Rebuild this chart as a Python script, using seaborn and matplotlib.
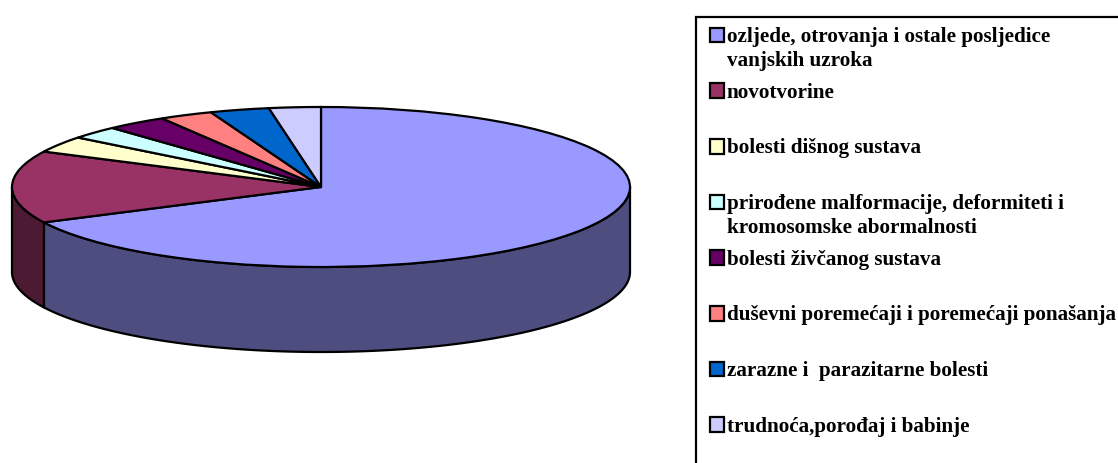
import numpy as np
import matplotlib
matplotlib.use("Agg")
import matplotlib.pyplot as plt
from matplotlib.legend_handler import HandlerPatch
from matplotlib.patches import Rectangle, Wedge
import seaborn as sns

# udjeli u postocima, procitano sa slike
labels = [
    "ozljede, otrovanja i ostale posljedice\nvanjskih uzroka",
    "novotvorine",
    "bolesti dišnog sustava",
    "prirođene malformacije, deformiteti i\nkromosomske abormalnosti",
    "bolesti živčanog sustava",
    "duševni poremećaji i poremećaji ponašanja",
    "zarazne i  parazitarne bolesti",
    "trudnoća,porođaj i babinje",
]
values = [67.7, 14.6, 3.3, 2.6, 3.2, 2.8, 3.1, 2.7]
colors = ["#9999FF", "#993366", "#FFFFCC", "#CCFFFF", "#660066", "#FF8080", "#0066CC", "#CCCCFF"]
side_colors = ["#4D4D80", "#4D1A33"]

W, H = 1118, 463
CX, CY, RX, RY, DEPTH = 321, 187, 309, 80, 85

sns.set_theme(style="white")
plt.rcParams["font.family"] = ["Liberation Serif", "DejaVu Serif"]


def first_line_box(legend, orig_handle, xdescent, ydescent, width, height, fontsize):
    # kvadratic uz prvi redak teksta, ne na sredinu stavke
    return Rectangle((-xdescent + 2.5, -ydescent + 10.2), width, height)


fig = plt.figure(figsize=(W / 100, H / 100), dpi=100)
ax = fig.add_axes([0, 0, 1, 1])
palette = sns.color_palette(colors)

# bocni zid: samo prednja polovica (90-270 stupnjeva od vrha)
edges = np.concatenate([[0], np.cumsum(values)]) / sum(values) * 360
depth = DEPTH / RY
for i, col in enumerate(side_colors):
    a0, a1 = max(edges[i], 90), min(edges[i + 1], 270)
    t = np.radians(np.linspace(a0, a1, 200))
    xs = np.sin(t)
    ys = np.cos(t)
    ax.fill(np.r_[xs, xs[::-1]], np.r_[ys, ys[::-1] - depth],
            facecolor=col, edgecolor="black", linewidth=1.6, joinstyle="round")

wedges, _ = ax.pie(values, colors=palette, startangle=90, counterclock=False, radius=1,
                   wedgeprops={"edgecolor": "black", "linewidth": 1.6})

ax.set_aspect("auto")
ax.set_xlim(-CX / RX, (W - CX) / RX)
ax.set_ylim((CY - H) / RY, CY / RY)
ax.axis("off")

# svaka stavka ima dva retka kao u originalu
legend_labels = [l if "\n" in l else l + "\n " for l in labels]
leg = ax.legend(wedges, legend_labels, loc="upper left",
                bbox_to_anchor=(696 / W, 1 - 17 / H), bbox_transform=fig.transFigure,
                borderaxespad=0, prop={"weight": "bold", "size": 15.2},
                frameon=True, fancybox=False, framealpha=1, edgecolor="black",
                handlelength=0.7, handleheight=0.7, handletextpad=0.28,
                labelspacing=0.55, borderpad=0.48,
                handler_map={Wedge: HandlerPatch(patch_func=first_line_box)})
leg.get_frame().set_linewidth(1.6)
for txt in leg.get_texts():
    txt.set_color("black")
    txt.set_linespacing(1.27)

fig.savefig("out.png", dpi=100)
